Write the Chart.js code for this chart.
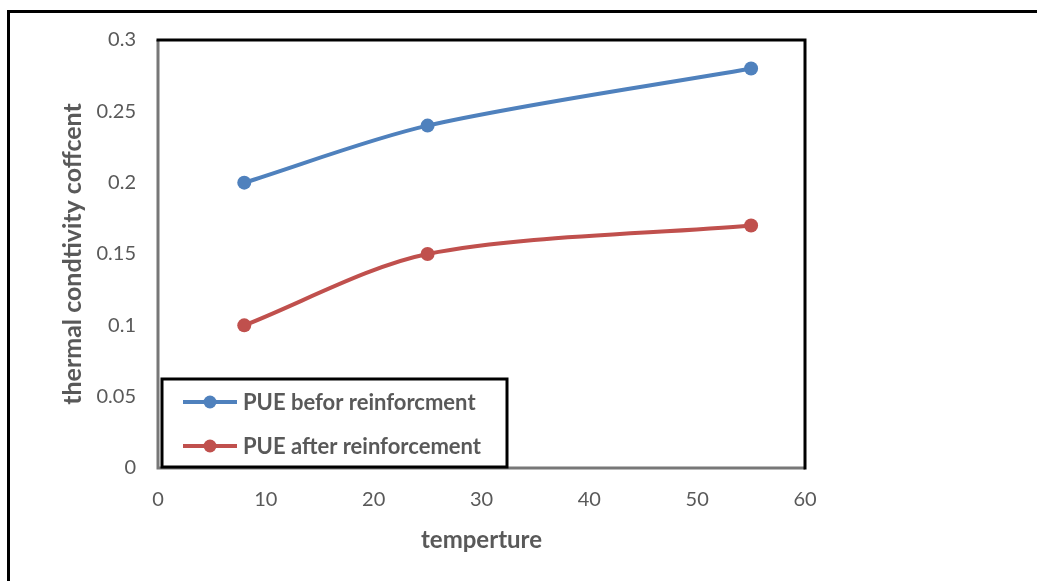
<!DOCTYPE html>
<html>
<head>
<meta charset="utf-8">
<script src="https://cdn.jsdelivr.net/npm/chart.js@4.4.0/dist/chart.umd.min.js"></script>
<style>
  html, body { margin: 0; padding: 0; background: #fff; }
  #wrap { width: 1037px; height: 581px; }
</style>
</head>
<body>
<div id="wrap"><canvas id="myChart" width="1037" height="581"></canvas></div>
<script>
// datos
const temperaturas = [8, 25, 55];
const antes = [0.2, 0.24, 0.28];
const despues = [0.1, 0.15, 0.17];
const nombres = ['PUE befor reinforcment', 'PUE after reinforcement'];
const colores = ['#4F81BD', '#C0504D'];
const ticksY = ['0', '0.05', '0.1', '0.15', '0.2', '0.25', '0.3'];
const ticksX = ['0', '10', '20', '30', '40', '50', '60'];

const fuente = 'Lato, "Open Sans", sans-serif';
const gris = '#595959';

function puntos(xs, ys) {
  return xs.map((x, i) => ({ x: x, y: ys[i] }));
}

// borde exterior, borde del area y cuadro de leyenda
const marcos = {
  id: 'marcos',
  afterDraw(chart) {
    const ctx = chart.ctx;
    const a = chart.chartArea;
    ctx.save();
    // borde exterior (cortado a la derecha y abajo)
    ctx.strokeStyle = '#000';
    ctx.lineWidth = 3;
    ctx.beginPath();
    ctx.moveTo(8.5, 600);
    ctx.lineTo(8.5, 11.5);
    ctx.lineTo(1100, 11.5);
    ctx.stroke();

    // area de trazado
    ctx.strokeStyle = '#777';
    ctx.lineWidth = 3;
    ctx.beginPath();
    ctx.moveTo(a.left, a.top);
    ctx.lineTo(a.left, a.bottom);
    ctx.lineTo(a.right, a.bottom);
    ctx.stroke();
    ctx.strokeStyle = '#000';
    ctx.beginPath();
    ctx.moveTo(a.left - 1.5, a.top);
    ctx.lineTo(a.right, a.top);
    ctx.lineTo(a.right, a.bottom + 1.5);
    ctx.stroke();

    // leyenda
    const lx = 162, ly = 379, lw = 345, lh = 88;
    ctx.fillStyle = '#fff';
    ctx.fillRect(lx, ly, lw, lh);
    ctx.strokeStyle = '#000';
    ctx.lineWidth = 3;
    ctx.strokeRect(lx, ly, lw, lh);

    const filas = [402, 446];
    chart.data.datasets.forEach((ds, i) => {
      const y = filas[i];
      ctx.strokeStyle = ds.borderColor;
      ctx.lineWidth = 4;
      ctx.beginPath();
      ctx.moveTo(183, y);
      ctx.lineTo(237, y);
      ctx.stroke();
      ctx.fillStyle = ds.borderColor;
      ctx.beginPath();
      ctx.arc(210, y, 6.5, 0, Math.PI * 2);
      ctx.fill();
      ctx.fillStyle = gris;
      ctx.font = 'bold 22px ' + fuente;
      ctx.textBaseline = 'middle';
      ctx.textAlign = 'left';
      ctx.fillText(ds.label, 243, y + 1);
    });
    ctx.restore();
  }
};

const ctx = document.getElementById('myChart');
const grafico = new Chart(ctx, {
  type: 'line',
  data: {
    datasets: [
      {
        label: nombres[0],
        data: puntos(temperaturas, antes),
        borderColor: colores[0],
        backgroundColor: colores[0],
        borderWidth: 4,
        pointRadius: 7,
        pointHoverRadius: 7,
        pointBorderWidth: 0,
        tension: 0.3
      },
      {
        label: nombres[1],
        data: puntos(temperaturas, despues),
        borderColor: colores[1],
        backgroundColor: colores[1],
        borderWidth: 4,
        pointRadius: 7,
        pointHoverRadius: 7,
        pointBorderWidth: 0,
        tension: 0.3
      }
    ]
  },
  options: {
    responsive: false,
    animation: false,
    layout: { padding: { left: 0, top: 40, right: 232, bottom: 0 } },
    plugins: { legend: { display: false }, tooltip: { enabled: false } },
    scales: {
      x: {
        type: 'linear',
        min: 0,
        max: 60,
        grid: { display: false, drawTicks: false },
        border: { display: false },
        ticks: {
          stepSize: 10,
          padding: 20,
          color: gris,
          font: { family: fuente, size: 20 },
          callback: (v) => ticksX[Math.round(v / 10)]
        },
        title: {
          display: true,
          text: 'temperture',
          color: gris,
          font: { family: fuente, size: 24, weight: 'bold' },
          padding: { top: 0, bottom: 26 }
        },
        afterFit: (s) => { s.height = 113; }
      },
      y: {
        min: 0,
        max: 0.3,
        grid: { display: false, drawTicks: false },
        border: { display: false },
        ticks: {
          stepSize: 0.05,
          padding: 22,
          color: gris,
          font: { family: fuente, size: 20 },
          callback: (v) => ticksY[Math.round(v / 0.05)]
        },
        title: {
          display: true,
          text: 'thermal condtivity coffcent',
          color: gris,
          font: { family: fuente, size: 25, weight: 'bold' },
          padding: { top: 58, bottom: 0 }
        },
        afterFit: (s) => { s.width = 158; }
      }
    }
  },
  plugins: [marcos]
});
</script>
</body>
</html>
